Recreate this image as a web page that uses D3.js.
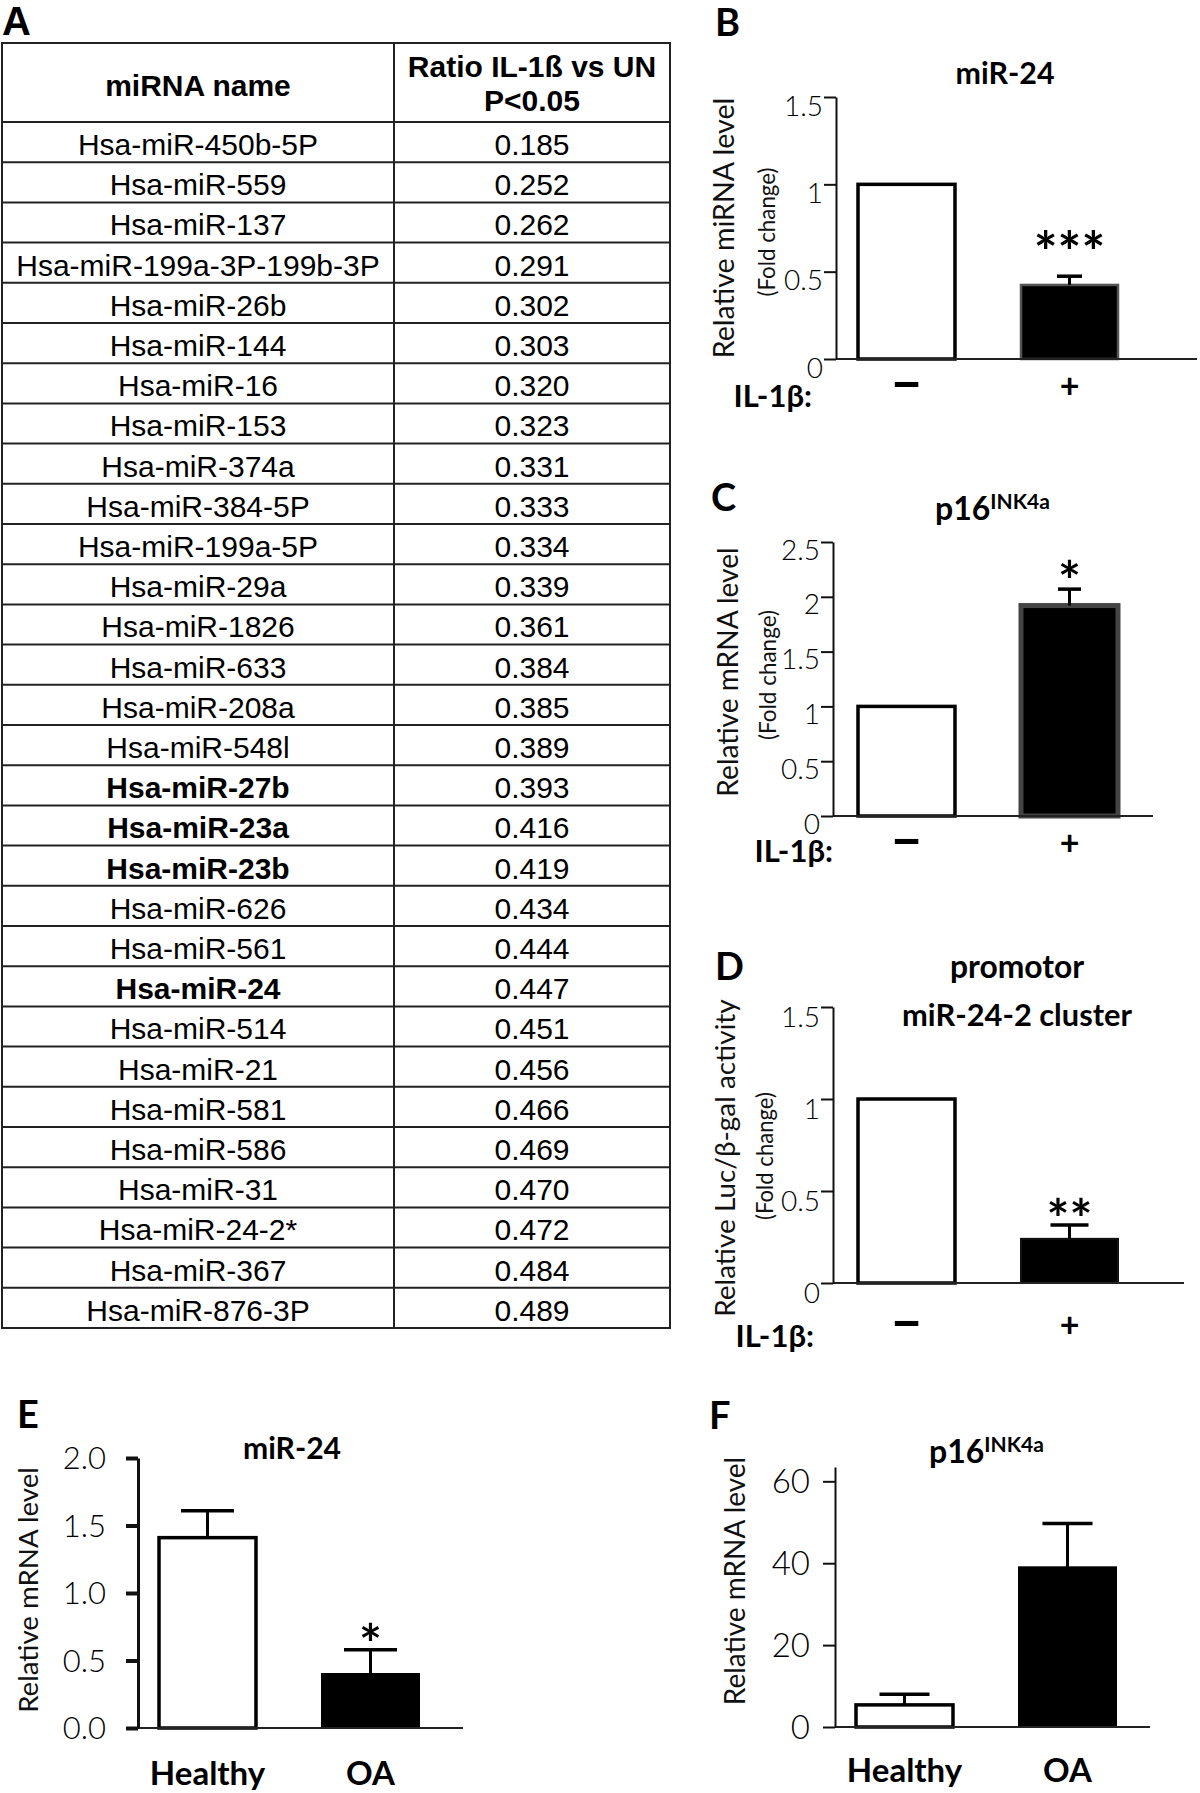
<!doctype html>
<html>
<head>
<script src="https://cdnjs.cloudflare.com/ajax/libs/d3/7.8.5/d3.min.js"></script>
</head>
<body style="margin:0px;background:#fff">
<script>

var w = 1200, h = 1793;

// panel A table
var mirNames = ["Hsa-miR-450b-5P","Hsa-miR-559","Hsa-miR-137","Hsa-miR-199a-3P-199b-3P",
  "Hsa-miR-26b","Hsa-miR-144","Hsa-miR-16","Hsa-miR-153","Hsa-miR-374a","Hsa-miR-384-5P",
  "Hsa-miR-199a-5P","Hsa-miR-29a","Hsa-miR-1826","Hsa-miR-633","Hsa-miR-208a","Hsa-miR-548l",
  "Hsa-miR-27b","Hsa-miR-23a","Hsa-miR-23b","Hsa-miR-626","Hsa-miR-561","Hsa-miR-24",
  "Hsa-miR-514","Hsa-miR-21","Hsa-miR-581","Hsa-miR-586","Hsa-miR-31","Hsa-miR-24-2*",
  "Hsa-miR-367","Hsa-miR-876-3P"];
var mirRatios = [0.185,0.252,0.262,0.291,0.302,0.303,0.320,0.323,0.331,0.333,
  0.334,0.339,0.361,0.384,0.385,0.389,0.393,0.416,0.419,0.434,
  0.444,0.447,0.451,0.456,0.466,0.469,0.470,0.472,0.484,0.489];
var mirBold = ["Hsa-miR-27b","Hsa-miR-23a","Hsa-miR-23b","Hsa-miR-24"];

// panels B-D : IL-1b treatment
var ilGroups = ["\u2013","+"];
var bValues = [1, 0.424], bErrors = [0, 0.05], bTicks = [0, 0.5, 1, 1.5];
var cValues = [1, 1.92],  cErrors = [0, 0.15], cTicks = [0, 0.5, 1, 1.5, 2, 2.5];
var dValues = [1, 0.24],  dErrors = [0, 0.075], dTicks = [0, 0.5, 1, 1.5];

// panels E-F : healthy vs OA
var oaGroups = ["Healthy","OA"];
var eValues = [1.41, 0.40], eErrors = [0.20, 0.18], eTicks = [0, 0.5, 1, 1.5, 2];
var fValues = [5.4, 39],    fErrors = [2.6, 10.7],  fTicks = [0, 20, 40, 60];

var svg = d3.select("body").append("svg").attr("width", w).attr("height", h)
  .style("font-family", "Lato, 'Open Sans', sans-serif");

function fitTo(sel, len) {
  sel.each(function() {
    var t = d3.select(this);
    var fs = parseFloat(t.attr("font-size"));
    t.attr("font-size", (fs * len / this.getComputedTextLength()).toFixed(1));
  });
}

// ---------- A : table ----------
var arial = "'Liberation Sans', Arial, sans-serif";
var tbl = svg.append("g");
var colX = [2, 394, 670];
var rows = d3.scaleBand().domain(d3.range(mirNames.length)).range([122, 1328]);
var fmt3 = d3.format(".3f");

tbl.append("rect").attr("x", colX[0]).attr("y", 43)
  .attr("width", colX[2] - colX[0]).attr("height", 1328 - 43)
  .attr("fill", "none").attr("stroke", "#222").attr("stroke-width", 2);
tbl.append("line").attr("x1", colX[1]).attr("x2", colX[1]).attr("y1", 43).attr("y2", 1328)
  .attr("stroke", "#222").attr("stroke-width", 2);
tbl.selectAll("line.row").data(d3.range(mirNames.length)).enter().append("line")
  .attr("class", "row")
  .attr("x1", colX[0]).attr("x2", colX[2])
  .attr("y1", function(d){ return rows(d); }).attr("y2", function(d){ return rows(d); })
  .attr("stroke", "#222").attr("stroke-width", 2);

tbl.append("text").attr("x", (colX[0]+colX[1])/2).attr("y", 96).attr("text-anchor", "middle")
  .attr("font-family", arial).attr("font-size", 30).attr("font-weight", "bold").text("miRNA name");
tbl.append("text").attr("x", (colX[1]+colX[2])/2).attr("y", 77).attr("text-anchor", "middle")
  .attr("font-family", arial).attr("font-size", 30).attr("font-weight", "bold").text("Ratio IL-1ß vs UN");
tbl.append("text").attr("x", (colX[1]+colX[2])/2).attr("y", 111).attr("text-anchor", "middle")
  .attr("font-family", arial).attr("font-size", 30).attr("font-weight", "bold").text("P<0.05");

tbl.selectAll("text.name").data(mirNames).enter().append("text")
  .attr("class", "name")
  .attr("x", (colX[0]+colX[1])/2)
  .attr("y", function(d,i){ return rows(i) + 33; })
  .attr("text-anchor", "middle").attr("font-family", arial).attr("font-size", 30)
  .attr("font-weight", function(d){ return mirBold.indexOf(d) >= 0 ? "bold" : "normal"; })
  .text(function(d){ return d; });
tbl.selectAll("text.val").data(mirRatios).enter().append("text")
  .attr("class", "val")
  .attr("x", (colX[1]+colX[2])/2)
  .attr("y", function(d,i){ return rows(i) + 33; })
  .attr("text-anchor", "middle").attr("font-family", arial).attr("font-size", 30)
  .text(function(d){ return fmt3(d); });

// ---------- bar panels ----------
function panel(o) {
  var g = svg.append("g");
  var x = d3.scaleBand().domain(o.groups).range(o.band).paddingInner(0.405).paddingOuter(0.135);
  var y = d3.scaleLinear().domain(o.domain).range(o.yr);

  // bars
  g.selectAll("rect.bar").data(o.values).enter().append("rect")
    .attr("class", "bar")
    .attr("x", function(d,i){ return x(o.groups[i]); })
    .attr("y", function(d){ return y(d); })
    .attr("width", x.bandwidth())
    .attr("height", function(d){ return y(0) - y(d); })
    .attr("fill", function(d,i){ return i ? "#000" : "#fff"; })
    .attr("stroke", function(d,i){ return i ? o.darkStroke : "#000"; })
    .attr("stroke-width", function(d,i){ return i ? o.darkWidth : 3.5; });

  // error bars (upper only)
  o.values.forEach(function(v, i) {
    if (!o.errors[i]) return;
    var cx = x(o.groups[i]) + x.bandwidth()/2;
    g.append("line").attr("x1", cx).attr("x2", cx)
      .attr("y1", y(v)).attr("y2", y(v + o.errors[i]))
      .attr("stroke", "#000").attr("stroke-width", 3);
    g.append("line").attr("x1", cx - o.cap/2).attr("x2", cx + o.cap/2)
      .attr("y1", y(v + o.errors[i])).attr("y2", y(v + o.errors[i]))
      .attr("stroke", "#000").attr("stroke-width", 3.5);
  });

  // baseline
  g.append("line").attr("x1", o.axisX).attr("x2", o.xEnd)
    .attr("y1", y(0)).attr("y2", y(0))
    .attr("stroke", "#222").attr("stroke-width", 2);

  // y axis
  var ya = g.append("g").attr("transform", "translate(" + o.axisX + ",0)")
    .call(d3.axisLeft(y).tickValues(o.ticks).tickFormat(o.fmt)
      .tickSize(12).tickSizeOuter(0).tickPadding(o.tickPad));
  ya.select(".domain").attr("stroke", "#111").attr("stroke-width", o.axisWidth);
  ya.selectAll(".tick line").attr("stroke", "#111").attr("stroke-width", o.tickWidth);
  ya.selectAll(".tick text").attr("font-family", "Lato, sans-serif").attr("font-weight", 300)
    .attr("font-size", o.tickFont).attr("fill", "#000").attr("dy", o.tickDy);

  // x labels
  var xa = g.append("g").attr("transform", "translate(0," + o.xLabelY + ")")
    .call(d3.axisBottom(x).tickSize(0).tickPadding(0));
  xa.select(".domain").remove();
  xa.selectAll(".tick text").attr("font-family", "Lato, sans-serif").attr("font-weight", "bold")
    .attr("font-size", function(d){ return d === "\u2013" ? 58 : o.xFont; })
    .attr("fill", "#000").attr("dy", 0).attr("y", function(d){ return d === "\u2013" ? 4 : 0; });

  if (o.treatLabel) {
    g.append("text").attr("x", o.treatLabel[0]).attr("y", o.treatLabel[1])
      .attr("text-anchor", "end").attr("font-size", 31).attr("font-weight", "bold")
      .text("IL-1\u03b2:");
  }

  // y titles
  var yt = g.append("text").attr("text-anchor", "middle").attr("font-size", 28)
    .attr("transform", "translate(" + o.yTitle[0] + "," + o.yTitle[1] + ") rotate(-90)")
    .attr("fill", "#111").text(o.yText);
  fitTo(yt, o.yTitle[2]);
  if (o.fold) {
    var ft = g.append("text").attr("text-anchor", "middle").attr("font-size", 20)
      .attr("transform", "translate(" + o.fold[0] + "," + o.fold[1] + ") rotate(-90)")
      .attr("fill", "#111").text("(Fold change)");
    fitTo(ft, o.fold[2]);
  }

  // significance stars
  if (o.stars) {
    g.append("text").attr("x", x(o.groups[1]) + x.bandwidth()/2).attr("y", o.stars[1])
      .attr("text-anchor", "middle").attr("font-size", o.stars[2]).attr("font-weight", "bold")
      .attr("letter-spacing", o.stars[3] || 0)
      .text(o.stars[0]);
  }

  // panel letter
  g.append("text").attr("x", o.letter[1]).attr("y", o.letter[2])
    .attr("font-size", 38).attr("font-weight", "bold").text(o.letter[0]);
  return g;
}

function plainTitle(str, cx, by, width) {
  var t = svg.append("text").attr("x", cx).attr("y", by).attr("text-anchor", "middle")
    .attr("font-size", 30).attr("font-weight", "bold").text(str);
  fitTo(t, width);
}
function supTitle(x0, by) {
  var t = svg.append("text").attr("x", x0).attr("y", by).attr("font-weight", "bold");
  t.append("tspan").attr("font-size", 32).text("p16");
  t.append("tspan").attr("font-size", 21).attr("dy", -11).text("INK4a");
}

var plainFmt = function(d){ return String(d); };

panel({ groups: ilGroups, values: bValues, errors: bErrors, ticks: bTicks, fmt: plainFmt,
  domain: [0, 1.5], yr: [359, 97], band: [836, 1140], axisX: 836, xEnd: 1197,
  darkStroke: "#555", darkWidth: 2.5, cap: 25, axisWidth: 2, tickWidth: 2, tickPad: 1,
  tickFont: 28, tickDy: 18, xLabelY: 398, xFont: 34,
  treatLabel: [812, 407], yText: "Relative miRNA level", yTitle: [734, 228, 261],
  fold: [775, 232, 129], stars: ["***", 272, 56, 0], letter: ["B", 715, 36] });
plainTitle("miR-24", 1005, 84, 99);

panel({ groups: ilGroups, values: cValues, errors: cErrors, ticks: cTicks, fmt: plainFmt,
  domain: [0, 2.5], yr: [816, 542], band: [836, 1140], axisX: 833, xEnd: 1153,
  darkStroke: "#444", darkWidth: 5, cap: 23, axisWidth: 2, tickWidth: 2, tickPad: 1,
  tickFont: 28, tickDy: 17, xLabelY: 855, xFont: 34,
  treatLabel: [833, 862], yText: "Relative mRNA level", yTitle: [738, 672, 249],
  fold: [776, 675, 130], stars: ["*", 600, 54], letter: ["C", 711, 511] });
supTitle(935, 520);

panel({ groups: ilGroups, values: dValues, errors: dErrors, ticks: dTicks, fmt: plainFmt,
  domain: [0, 1.5], yr: [1283, 1007], band: [836, 1140], axisX: 833, xEnd: 1184,
  darkStroke: "#111", darkWidth: 2, cap: 38, axisWidth: 2, tickWidth: 2, tickPad: 1,
  tickFont: 28, tickDy: 19, xLabelY: 1337, xFont: 34,
  treatLabel: [814, 1347], yText: "Relative Luc/\u03b2-gal activity", yTitle: [735, 1158, 317],
  fold: [773, 1156, 128], stars: ["**", 1238, 54, 0], letter: ["D", 715, 980] });
plainTitle("promotor", 1017, 978, 134);
plainTitle("miR-24-2 cluster", 1017, 1026, 230);

panel({ groups: oaGroups, values: eValues, errors: eErrors, ticks: eTicks, fmt: d3.format(".1f"),
  domain: [0, 2], yr: [1728, 1458], band: [137, 441], axisX: 138, xEnd: 463,
  darkStroke: "#000", darkWidth: 2, cap: 53, axisWidth: 3, tickWidth: 4, tickPad: 20,
  tickFont: 31, tickDy: "0.35em", xLabelY: 1785, xFont: 33,
  yText: "Relative mRNA level", yTitle: [38, 1590, 246],
  stars: ["*", 1663, 54], letter: ["E", 17, 1428] });
plainTitle("miR-24", 292, 1459, 98);

panel({ groups: oaGroups, values: fValues, errors: fErrors, ticks: fTicks, fmt: d3.format("d"),
  domain: [0, 63.5], yr: [1727, 1467], band: [834, 1138], axisX: 835, xEnd: 1150,
  darkStroke: "#000", darkWidth: 2, cap: 50, axisWidth: 2, tickWidth: 2, tickPad: 13,
  tickFont: 33, tickDy: "0.35em", xLabelY: 1782, xFont: 33,
  yText: "Relative mRNA level", yTitle: [745, 1581, 248],
  letter: ["F", 709, 1429] });
supTitle(929, 1463);

// panel A letter
svg.append("text").attr("x", 2).attr("y", 35).attr("font-size", 40).attr("font-weight", "bold")
  .attr("font-family", arial).text("A");

</script>
</body>
</html>
